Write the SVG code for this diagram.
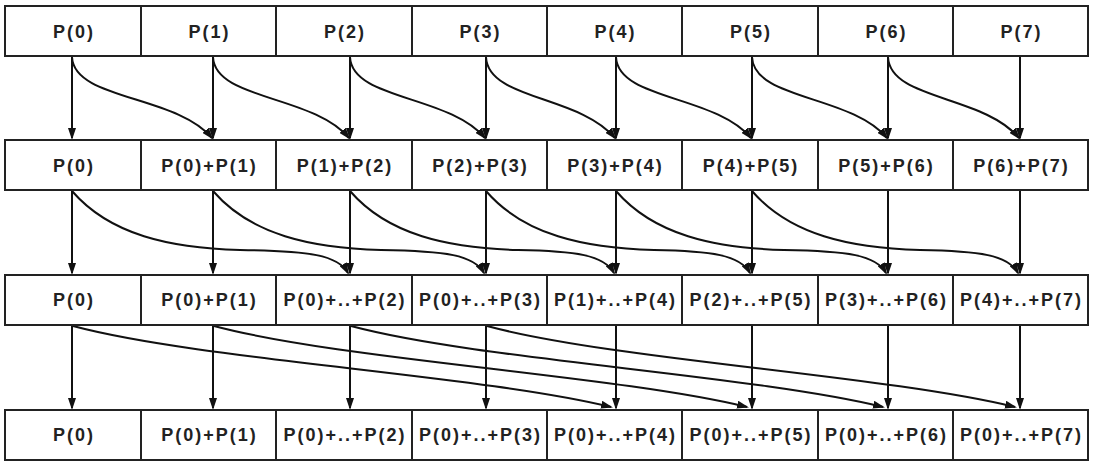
<svg xmlns="http://www.w3.org/2000/svg" width="1093" height="463" viewBox="0 0 1093 463">
<style>
.box{fill:#fff;stroke:#222;stroke-width:2}
.lbl{font-family:"Liberation Sans",Arial,sans-serif;font-weight:bold;font-size:18px;letter-spacing:2px;text-anchor:middle;fill:#222}
.edge{fill:none;stroke:#111;stroke-width:2;marker-end:url(#ah)}
</style>
<defs>
<marker id="ah" markerUnits="userSpaceOnUse" markerWidth="12" markerHeight="8" refX="10" refY="4" orient="auto" viewBox="0 0 12 8">
<path d="M0,0 L12,4 L0,8 z" fill="#111"/>
</marker>
</defs>
<rect width="1093" height="463" fill="#fff"/>
<g id="connectors">
<g id="step1">
<path class="edge" d="M72,57 L72,138"/>
<path class="edge" d="M213,57 L213,138"/>
<path class="edge" d="M350,57 L350,138"/>
<path class="edge" d="M486,57 L486,138"/>
<path class="edge" d="M616,57 L616,138"/>
<path class="edge" d="M752,57 L752,138"/>
<path class="edge" d="M888,57 L888,138"/>
<path class="edge" d="M1020,57 L1020,138"/>
<path class="edge" d="M72,57 C74,100 176,95 212,138"/>
<path class="edge" d="M213,57 C215,100 313,95 349,138"/>
<path class="edge" d="M350,57 C352,100 449,95 485,138"/>
<path class="edge" d="M486,57 C488,100 579,95 615,138"/>
<path class="edge" d="M616,57 C618,100 715,95 751,138"/>
<path class="edge" d="M752,57 C754,100 851,95 887,138"/>
<path class="edge" d="M888,57 C890,100 983,95 1019,138"/>
</g>
<g id="step2">
<path class="edge" d="M72,191 L72,273"/>
<path class="edge" d="M213,191 L213,273"/>
<path class="edge" d="M350,191 L350,273"/>
<path class="edge" d="M486,191 L486,273"/>
<path class="edge" d="M616,191 L616,273"/>
<path class="edge" d="M752,191 L752,273"/>
<path class="edge" d="M888,191 L888,273"/>
<path class="edge" d="M1020,191 L1020,273"/>
<path class="edge" d="M72,191 C110,235 170,248 240,250 C310,251 338,255 348,273"/>
<path class="edge" d="M213,191 C251,235 311,248 381,250 C446,251 474,255 484,273"/>
<path class="edge" d="M350,191 C388,235 448,248 518,250 C576,251 604,255 614,273"/>
<path class="edge" d="M486,191 C524,235 584,248 654,250 C712,251 740,255 750,273"/>
<path class="edge" d="M616,191 C654,235 714,248 784,250 C848,251 876,255 886,273"/>
<path class="edge" d="M752,191 C790,235 850,248 920,250 C980,251 1008,255 1018,273"/>
</g>
<g id="step3">
<path class="edge" d="M72,326 L72,408"/>
<path class="edge" d="M213,326 L213,408"/>
<path class="edge" d="M350,326 L350,408"/>
<path class="edge" d="M486,326 L486,408"/>
<path class="edge" d="M616,326 L616,408"/>
<path class="edge" d="M752,326 L752,408"/>
<path class="edge" d="M888,326 L888,408"/>
<path class="edge" d="M1020,326 L1020,408"/>
<path class="edge" d="M73,326 C200,360 480,375 611,407"/>
<path class="edge" d="M214,326 C341,360 616,375 747,407"/>
<path class="edge" d="M351,326 C478,360 752,375 883,407"/>
<path class="edge" d="M487,326 C614,360 884,375 1015,407"/>
</g>
</g>
<g id="r1c0"><rect class="box" x="5" y="6" width="136" height="50"/><text class="lbl" x="74" y="37.5">P(0)</text></g>
<g id="r1c1"><rect class="box" x="141" y="6" width="135" height="50"/><text class="lbl" x="209.5" y="37.5">P(1)</text></g>
<g id="r1c2"><rect class="box" x="276" y="6" width="136" height="50"/><text class="lbl" x="345" y="37.5">P(2)</text></g>
<g id="r1c3"><rect class="box" x="412" y="6" width="135" height="50"/><text class="lbl" x="480.5" y="37.5">P(3)</text></g>
<g id="r1c4"><rect class="box" x="547" y="6" width="135" height="50"/><text class="lbl" x="615.5" y="37.5">P(4)</text></g>
<g id="r1c5"><rect class="box" x="682" y="6" width="136" height="50"/><text class="lbl" x="751" y="37.5">P(5)</text></g>
<g id="r1c6"><rect class="box" x="818" y="6" width="135" height="50"/><text class="lbl" x="886.5" y="37.5">P(6)</text></g>
<g id="r1c7"><rect class="box" x="953" y="6" width="135" height="50"/><text class="lbl" x="1021.5" y="37.5">P(7)</text></g>

<g id="r2c0"><rect class="box" x="5" y="140" width="136" height="50"/><text class="lbl" x="74" y="171.5">P(0)</text></g>
<g id="r2c1"><rect class="box" x="141" y="140" width="135" height="50"/><text class="lbl" x="209.5" y="171.5">P(0)+P(1)</text></g>
<g id="r2c2"><rect class="box" x="276" y="140" width="136" height="50"/><text class="lbl" x="345" y="171.5">P(1)+P(2)</text></g>
<g id="r2c3"><rect class="box" x="412" y="140" width="135" height="50"/><text class="lbl" x="480.5" y="171.5">P(2)+P(3)</text></g>
<g id="r2c4"><rect class="box" x="547" y="140" width="135" height="50"/><text class="lbl" x="615.5" y="171.5">P(3)+P(4)</text></g>
<g id="r2c5"><rect class="box" x="682" y="140" width="136" height="50"/><text class="lbl" x="751" y="171.5">P(4)+P(5)</text></g>
<g id="r2c6"><rect class="box" x="818" y="140" width="135" height="50"/><text class="lbl" x="886.5" y="171.5">P(5)+P(6)</text></g>
<g id="r2c7"><rect class="box" x="953" y="140" width="135" height="50"/><text class="lbl" x="1021.5" y="171.5">P(6)+P(7)</text></g>

<g id="r3c0"><rect class="box" x="5" y="275" width="136" height="50"/><text class="lbl" x="74" y="306">P(0)</text></g>
<g id="r3c1"><rect class="box" x="141" y="275" width="135" height="50"/><text class="lbl" x="209.5" y="306">P(0)+P(1)</text></g>
<g id="r3c2"><rect class="box" x="276" y="275" width="136" height="50"/><text class="lbl" x="345" y="306">P(0)+..+P(2)</text></g>
<g id="r3c3"><rect class="box" x="412" y="275" width="135" height="50"/><text class="lbl" x="480.5" y="306">P(0)+..+P(3)</text></g>
<g id="r3c4"><rect class="box" x="547" y="275" width="135" height="50"/><text class="lbl" x="615.5" y="306">P(1)+..+P(4)</text></g>
<g id="r3c5"><rect class="box" x="682" y="275" width="136" height="50"/><text class="lbl" x="751" y="306">P(2)+..+P(5)</text></g>
<g id="r3c6"><rect class="box" x="818" y="275" width="135" height="50"/><text class="lbl" x="886.5" y="306">P(3)+..+P(6)</text></g>
<g id="r3c7"><rect class="box" x="953" y="275" width="135" height="50"/><text class="lbl" x="1021.5" y="306">P(4)+..+P(7)</text></g>

<g id="r4c0"><rect class="box" x="5" y="410" width="136" height="50"/><text class="lbl" x="74" y="441">P(0)</text></g>
<g id="r4c1"><rect class="box" x="141" y="410" width="135" height="50"/><text class="lbl" x="209.5" y="441">P(0)+P(1)</text></g>
<g id="r4c2"><rect class="box" x="276" y="410" width="136" height="50"/><text class="lbl" x="345" y="441">P(0)+..+P(2)</text></g>
<g id="r4c3"><rect class="box" x="412" y="410" width="135" height="50"/><text class="lbl" x="480.5" y="441">P(0)+..+P(3)</text></g>
<g id="r4c4"><rect class="box" x="547" y="410" width="135" height="50"/><text class="lbl" x="615.5" y="441">P(0)+..+P(4)</text></g>
<g id="r4c5"><rect class="box" x="682" y="410" width="136" height="50"/><text class="lbl" x="751" y="441">P(0)+..+P(5)</text></g>
<g id="r4c6"><rect class="box" x="818" y="410" width="135" height="50"/><text class="lbl" x="886.5" y="441">P(0)+..+P(6)</text></g>
<g id="r4c7"><rect class="box" x="953" y="410" width="135" height="50"/><text class="lbl" x="1021.5" y="441">P(0)+..+P(7)</text></g>
</svg>
